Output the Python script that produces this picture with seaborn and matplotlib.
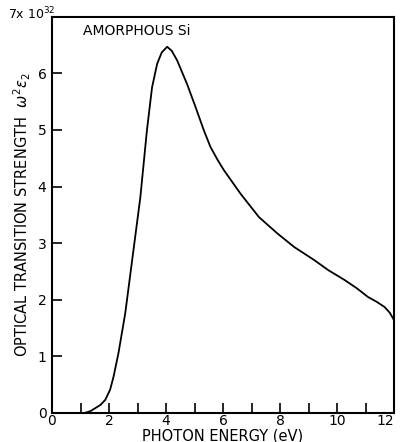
import matplotlib
matplotlib.use("Agg")
import matplotlib.pyplot as plt
import numpy as np
import pandas as pd
import seaborn as sns

# valores (energia em eV, forca em unidades de 1e32)
energy = [1.16, 1.35, 1.51, 1.70, 1.87, 2.04, 2.16, 2.33, 2.57, 2.80, 3.10, 3.33,
          3.51, 3.69, 3.85, 4.04, 4.20, 4.39, 4.74, 5.04, 5.33, 5.56, 5.80, 6.03, 6.62,
          7.26, 7.91, 8.50, 9.20, 9.70, 10.26, 10.70, 11.08, 11.40, 11.67, 11.85, 12.0]
strength = [0.0, 0.03, 0.08, 0.14, 0.23, 0.41, 0.64, 1.05, 1.76, 2.65, 3.81, 4.99,
            5.75, 6.17, 6.37, 6.47, 6.40, 6.23, 5.81, 5.40, 4.99, 4.70, 4.48, 4.29, 3.87,
            3.46, 3.17, 2.93, 2.70, 2.52, 2.35, 2.20, 2.05, 1.96, 1.87, 1.77, 1.64]

x_ticks = [0, 2, 4, 6, 8, 10, 12]
x_minor = [1, 3, 5, 7, 9, 11]
y_ticks = [0, 1, 2, 3, 4, 5, 6]

df = pd.DataFrame({"E": energy, "S": strength})

sns.set_style("ticks", {"text.color": "black", "axes.labelcolor": "black",
                        "xtick.color": "black", "ytick.color": "black",
                        "axes.edgecolor": "black"})
plt.rcParams['font.family'] = ['DejaVu Sans']

fig = plt.figure(figsize=(4.0, 4.42), dpi=100)
ax = fig.add_axes([0.13, 0.066, 0.855, 0.896])
sns.lineplot(data=df, x="E", y="S", ax=ax, color="black", linewidth=1.3)

ax.set_xlim(0, 12)
ax.set_ylim(0, 7)
ax.set_xticks(x_ticks)
ax.set_xticks(x_minor, minor=True)
ax.set_yticks(y_ticks)
ax.tick_params(axis="both", direction="in", length=7, width=1.2, labelsize=10, pad=1)
ax.tick_params(axis="x", which="minor", direction="in", length=7, width=1.2)
ax.tick_params(axis="y", pad=4)
ax.get_xticklabels()[-1].set_horizontalalignment("right")
for s in ax.spines.values():
    s.set_linewidth(1.5)

ax.set_xlabel("PHOTON ENERGY (eV)", fontsize=10.5, labelpad=0)
ax.set_ylabel("OPTICAL TRANSITION STRENGTH  $\\omega^2\\epsilon_2$", fontsize=10.5, labelpad=3)
ax.text(1.1, 6.75, "AMORPHOUS Si", fontsize=10, va="center")
fig.text(0.02, 0.968, "7x 10$^{32}$", fontsize=9, ha="left", va="center")

fig.savefig("out.png", dpi=100)
